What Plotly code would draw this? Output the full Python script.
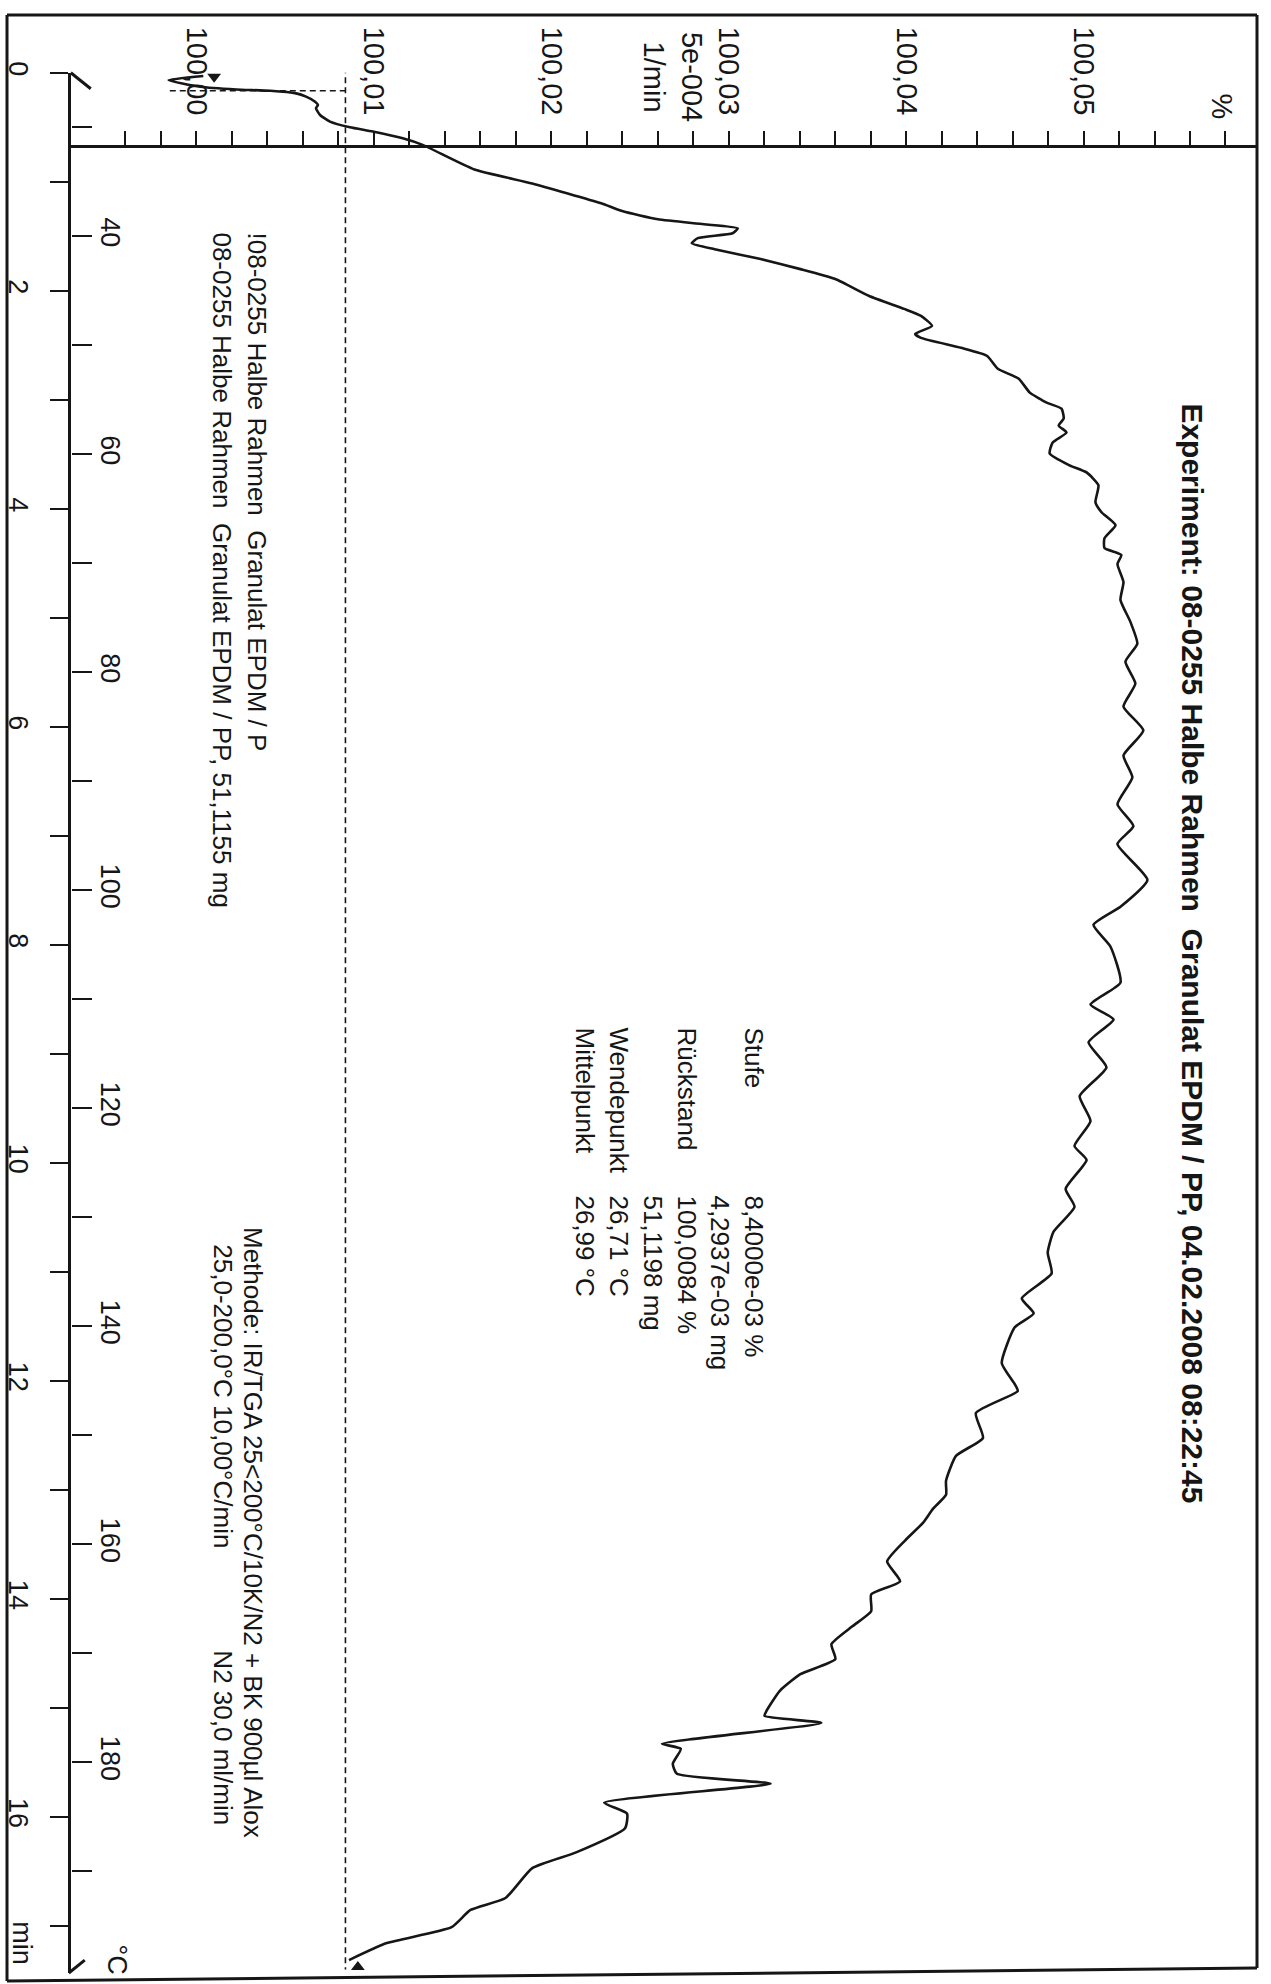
import plotly.graph_objects as go

# ---------------------------------------------------------------
# DATA (read from the scanned TGA sheet)
# ---------------------------------------------------------------
TIME_MIN = [0.030, 0.067, 0.128, 0.153, 0.165, 0.189, 0.219, 0.265, 0.295, 0.326,
            0.387, 0.448, 0.500, 0.539, 0.601, 0.661, 0.887, 1.015, 1.197, 1.271,
            1.344, 1.389, 1.426, 1.472, 1.517, 1.563, 1.618, 1.709, 1.801, 1.892,
            2.048, 2.166, 2.230, 2.322, 2.395, 2.432, 2.523, 2.596, 2.715, 2.806,
            2.934, 3.026, 3.081, 3.172, 3.236, 3.300, 3.391, 3.492, 3.601, 3.666,
            3.784, 3.940, 4.031, 4.150, 4.269, 4.360, 4.424, 4.507, 4.671, 4.836,
            5.037, 5.238, 5.402, 5.603, 5.814, 6.033, 6.262, 6.463, 6.710, 6.911,
            7.075, 7.404, 7.651, 7.816, 8.017, 8.346, 8.547, 8.684, 8.894, 9.123,
            9.388, 9.616, 9.845, 9.973, 10.238, 10.403, 10.631, 10.823, 11.015, 11.243,
            11.380, 11.508, 11.837, 12.029, 12.093, 12.294, 12.523, 12.688, 12.916, 13.044,
            13.172, 13.300, 13.464, 13.656, 13.839, 13.958, 14.113, 14.251, 14.415, 14.552,
            14.690, 14.845, 15.027, 15.073, 15.137, 15.329, 15.375, 15.512, 15.604, 15.695,
            15.869, 15.969, 16.103, 16.325, 16.469, 16.743, 16.853, 17.011, 17.157, 17.313]

MASS_PCT = [100.00039, 99.99843, 100.00022, 100.00225, 100.00416, 100.00562, 100.00618, 100.00669, 100.00685, 100.00674,
            100.00697, 100.00753, 100.00865, 100.00994, 100.01163, 100.01275, 100.01567, 100.01893, 100.02281, 100.02404,
            100.02601, 100.02860, 100.03051, 100.03022, 100.02826, 100.02792, 100.02921, 100.03180, 100.03404, 100.03601,
            100.03792, 100.03989, 100.04084, 100.04146, 100.04051, 100.04084, 100.04309, 100.04455, 100.04517, 100.04635,
            100.04697, 100.04792, 100.04876, 100.04888, 100.04860, 100.04904, 100.04826, 100.04809, 100.04921, 100.05017,
            100.05084, 100.05067, 100.05101, 100.05180, 100.05118, 100.05118, 100.05213, 100.05191, 100.05225, 100.05208,
            100.05264, 100.05303, 100.05236, 100.05292, 100.05225, 100.05337, 100.05225, 100.05275, 100.05191, 100.05281,
            100.05191, 100.05360, 100.05208, 100.05056, 100.05152, 100.05208, 100.05039, 100.05169, 100.05028, 100.05129,
            100.04978, 100.05039, 100.04949, 100.05017, 100.04899, 100.04949, 100.04831, 100.04798, 100.04820, 100.04652,
            100.04719, 100.04612, 100.04539, 100.04612, 100.04629, 100.04393, 100.04433, 100.04281, 100.04225, 100.04225,
            100.04152, 100.04096, 100.03994, 100.03893, 100.03966, 100.03803, 100.03803, 100.03697, 100.03579, 100.03601,
            100.03404, 100.03287, 100.03213, 100.03202, 100.03522, 100.02624, 100.02730, 100.02685, 100.02708, 100.03236,
            100.02298, 100.02427, 100.02416, 100.02140, 100.01893, 100.01742, 100.01545, 100.01438, 100.01073, 100.00860]

# evaluation (step) markers
RESIDUE_PCT = 100.0084
STEP_START_PCT = 99.9985
STEP_TIME = 0.165
RESIDUE_LINE_TIME = [-0.05, 17.40]
START_MARK = (100.0010, 0.037)
END_MARK = (100.0091, 17.377)

# axis ticks
PCT_TICKS = [100.00, 100.01, 100.02, 100.03, 100.04, 100.05]
PCT_LABELS = ["100,00", "100,01", "100,02", "100,03", "100,04", "100,05"]
TIME_TICKS = [0, 2, 4, 6, 8, 10, 12, 14, 16]
TIME_LABELS = ["0", "2", "4", "6", "8", "10", "12", "14", "16"]
TEMP_TICKS = [40, 60, 80, 100, 120, 140, 160, 180]
TEMP_LABELS = ["40", "60", "80", "100", "120", "140", "160", "180"]
TEMP_START = 25.0      # °C at t = 0
HEAT_RATE = 10.0       # °C/min

TITLE = "Experiment: 08-0255 Halbe Rahmen  Granulat EPDM / PP, 04.02.2008 08:22:45"
LEGEND_1 = "!08-0255 Halbe Rahmen  Granulat EPDM / P"
LEGEND_2 = "08-0255 Halbe Rahmen  Granulat EPDM / PP, 51,1155 mg"
METHOD_1 = "Methode: IR/TGA 25<200°C/10K/N2 + BK 900µl Alox"
METHOD_2A = "25,0-200,0°C 10,00°C/min"
METHOD_2B = "N2 30,0 ml/min"
RESULT_LABELS = ["Stufe", "", "Rückstand", "", "Wendepunkt", "Mittelpunkt"]
RESULT_VALUES = ["8,4000e-03 %", "4,2937e-03 mg", "100,0084 %", "51,1198 mg", "26,71 °C", "26,99 °C"]

# ---------------------------------------------------------------
# sheet geometry (pixels on the 1271 x 1984 page)
# ---------------------------------------------------------------
W, H = 1271, 1984
PL, PR, PT, PB = 3, 1257, 8, 1978
AX_X, AX_Y = 67, 139
X100, PX_PER_PCT = 193, 17800.0
T0_PX, PX_PER_MIN = 66, 109.4
AXIS_BOTTOM = 1973

FONT = "Liberation Sans, Arial, sans-serif"
INK = "#161616"


def pct_at(px):
    return 100 + (px - X100) / PX_PER_PCT


def min_at(py):
    return (py - T0_PX) / PX_PER_MIN


def fx(px):
    return (px - PL) / (PR - PL)


def fy(py):
    return (PB - py) / (PB - PT)


t_bottom = min_at(AXIS_BOTTOM)

fig = go.Figure()

fig.add_trace(go.Scatter(x=MASS_PCT, y=TIME_MIN, mode="lines",
                         line=dict(color=INK, width=2.6, shape="spline", smoothing=0.5),
                         hoverinfo="skip"))
fig.add_trace(go.Scatter(x=[RESIDUE_PCT, RESIDUE_PCT], y=RESIDUE_LINE_TIME, mode="lines",
                         line=dict(color=INK, width=1.6, dash="6px,4px"), hoverinfo="skip"))
fig.add_trace(go.Scatter(x=[STEP_START_PCT, RESIDUE_PCT], y=[STEP_TIME, STEP_TIME], mode="lines",
                         line=dict(color=INK, width=1.6, dash="6px,4px"), hoverinfo="skip"))
fig.add_trace(go.Scatter(x=[START_MARK[0]], y=[START_MARK[1]], mode="markers", cliponaxis=False,
                         marker=dict(symbol="triangle-down", size=12, color=INK), hoverinfo="skip"))
fig.add_trace(go.Scatter(x=[END_MARK[0]], y=[END_MARK[1]], mode="markers", cliponaxis=False,
                         marker=dict(symbol="triangle-up", size=12, color=INK), hoverinfo="skip"))
# temperature axis carrier (invisible)
fig.add_trace(go.Scatter(x=[MASS_PCT[0], MASS_PCT[0]],
                         y=[TEMP_START, TEMP_START + HEAT_RATE * TIME_MIN[-1]],
                         yaxis="y2", mode="lines", line=dict(width=0, color="rgba(0,0,0,0)"),
                         hoverinfo="skip"))

xtickfont = dict(family=FONT, size=29, color=INK)
ytickfont = dict(family=FONT, size=27, color=INK)

fig.update_layout(
    width=W, height=H,
    margin=dict(l=PL, r=W - PR, t=PT, b=H - PB, pad=0),
    paper_bgcolor="white", plot_bgcolor="white",
    showlegend=False,
    xaxis=dict(
        domain=[fx(AX_X), 1], range=[pct_at(AX_X), pct_at(PR)],
        side="top", anchor="free", position=fy(AX_Y),
        showline=True, linecolor=INK, linewidth=3,
        showgrid=False, zeroline=False,
        tickmode="array", tickvals=PCT_TICKS, ticktext=PCT_LABELS,
        ticks="outside", ticklen=14, tickwidth=2.4, tickcolor=INK,
        tickangle=90, tickfont=xtickfont, ticklabelstandoff=5,
        minor=dict(tickmode="linear", tick0=100, dtick=0.002, ticks="outside",
                   ticklen=14, tickwidth=2.4, tickcolor=INK, showgrid=False),
    ),
    yaxis=dict(
        domain=[fy(AXIS_BOTTOM), fy(T0_PX)], range=[t_bottom, 0],
        anchor="x", side="left",
        showline=True, linecolor=INK, linewidth=3,
        showgrid=False, zeroline=False,
        tickmode="array", tickvals=TIME_TICKS, ticktext=TIME_LABELS,
        ticks="outside", ticklen=18, tickwidth=2.4, tickcolor=INK,
        tickangle=90, tickfont=ytickfont, ticklabelstandoff=8,
        minor=dict(tickmode="linear", tick0=0, dtick=1, ticks="outside",
                   ticklen=18, tickwidth=2.4, tickcolor=INK, showgrid=False),
    ),
    yaxis2=dict(
        overlaying="y", anchor="free", position=fx(AX_X), side="left",
        range=[TEMP_START + HEAT_RATE * t_bottom, TEMP_START],
        showline=False, showgrid=False, zeroline=False,
        tickmode="array", tickvals=TEMP_TICKS, ticktext=TEMP_LABELS,
        ticks="inside", ticklen=20, tickwidth=2.4, tickcolor=INK,
        ticklabelposition="inside", tickangle=90, tickfont=ytickfont,
        ticklabelstandoff=6,
        minor=dict(tickmode="linear", tick0=0, dtick=10, ticks="inside",
                   ticklen=20, tickwidth=2.4, tickcolor=INK, showgrid=False),
    ),
)

# frame of the printed sheet and axis end marks
line_style = dict(color=INK, width=3)
frame = [
    (PL, PT, PR, PT),
    (PL, PT, PL, 1981),
    (PR, PT, PR, 1968),
    (PL, 1981, PR, 1968),
    (AX_X, T0_PX, AX_X + 20, T0_PX + 16),
    (AX_X - 2, AXIS_BOTTOM, AX_X + 14, AXIS_BOTTOM - 13),
]
for x0, y0, x1, y1 in frame:
    fig.add_shape(type="line", xref="paper", yref="paper",
                  x0=fx(x0), y0=fy(y0), x1=fx(x1), y1=fy(y1), line=line_style)


def note(text, px, py, size=26, bold=False, xanchor="center", yanchor="top", align="left"):
    fig.add_annotation(
        text=f"<b>{text}</b>" if bold else text,
        xref="paper", yref="paper", x=fx(px), y=fy(py),
        xanchor=xanchor, yanchor=yanchor, align=align,
        textangle=90, showarrow=False,
        font=dict(family=FONT, size=size, color=INK),
    )


note(TITLE, 1192, 396, size=30, bold=True)
note("<br>".join(RESULT_LABELS), 668, 1022)
note("<br>".join(RESULT_VALUES), 668, 1191)
note(LEGEND_1, 254, 224)
note(LEGEND_2, 219, 224)
note(METHOD_1, 250, 1222)
note(METHOD_2A, 220, 1240)
note(METHOD_2B, 220, 1647)
note("5e-004<br>1/min", 671, 70, size=29, yanchor="middle", align="center")
note("%", 1222, 100, size=29, yanchor="middle")
note("min", 18, 1943, size=27, yanchor="middle")
note("°C", 113, 1959, size=27, yanchor="middle")

# the page body carries a default 8px browser margin; remove it so the sheet
# sits flush with the window like the scanned original
fig.write_html("out.html", config={"displayModeBar": False},
               post_script="document.body.style.margin='0';")
